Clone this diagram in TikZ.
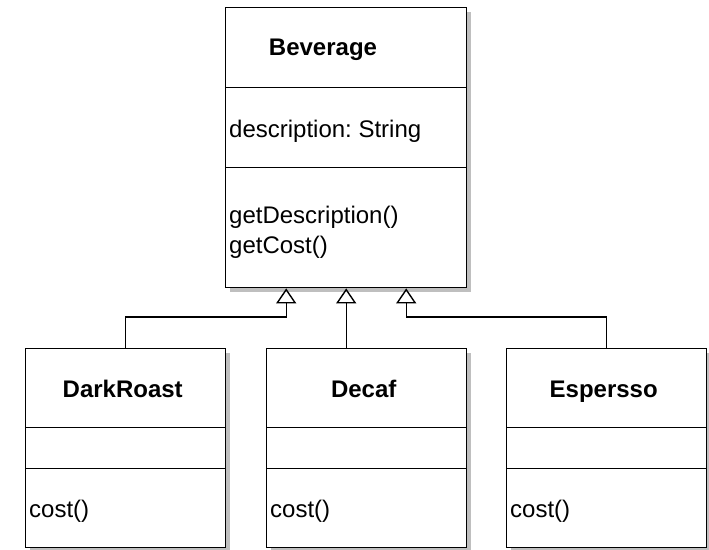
\documentclass[tikz,border=0pt]{standalone}
\usepackage{fontspec}
\setmainfont{Liberation Sans}
\usetikzlibrary{arrows.meta,shadows}
\frenchspacing
\begin{document}
\begin{tikzpicture}[x=1pt,y=-1pt,
  font=\fontsize{24}{34}\selectfont,
  classbox/.style={draw=black, line width=1.4pt, fill=white, inner sep=0pt,
    anchor=north west,
    drop shadow={shadow xshift=4pt, shadow yshift=-4pt, fill=black!25, opacity=1}},
  part/.style={draw=black, line width=1.4pt, inner sep=0pt, anchor=north west},
  title/.style={font=\fontsize{24}{34}\selectfont\bfseries, inner sep=0pt, anchor=base},
  member/.style={inner sep=0pt, anchor=base west},
  gen/.style={draw=black, line width=1.4pt,
    -{Triangle[open, width=20pt, length=15pt, line width=1.4pt]}}
]
\fill[white] (0,0) rectangle (709,549);
\useasboundingbox (0,0) rectangle (709,549);

% Beverage class
\node[classbox, minimum width=241pt, minimum height=280pt] (bev) at (225,7) {};
\node[part, minimum width=241pt, minimum height=80pt] (bevname) at (225,7) {};
\node[part, minimum width=241pt, minimum height=80pt] (bevattr) at (225,87) {};
\node[part, minimum width=241pt, minimum height=120pt] (bevops) at (225,167) {};
\node[title] (bevtitle) at (323,55) {Beverage};
\node[member] (bevdesc) at (229,137) {description: String};
\node[member] (bevgetd) at (229,223) {getDescription()};
\node[member] (bevgetc) at (229,253) {getCost()};

% Subclasses
\foreach \nm/\x/\lbl in {dr/25/DarkRoast, dc/266/Decaf, es/506/Espersso}{
  \node[classbox, minimum width=200pt, minimum height=199pt] (\nm) at (\x,348) {};
  \node[part, minimum width=200pt, minimum height=79pt] (\nm name) at (\x,348) {};
  \node[part, minimum width=200pt, minimum height=41pt] (\nm attr) at (\x,427) {};
  \node[part, minimum width=200pt, minimum height=79pt] (\nm ops) at (\x,468) {};
  \node[title] (\nm title) at ([xshift=-3pt]\nm.center |- 0,397) {\lbl};
  \node[member] (\nm cost) at (\x+4,517) {cost()};
}

% Generalization arrows
\coordinate (t1) at ([xshift=-60pt]bev.south);
\coordinate (t3) at ([xshift=60pt]bev.south);
\draw[gen] (dr.north) -- ++(0,-31) -| (t1);
\draw[gen] (bev.south |- dc.north) -- (bev.south);
\draw[gen] (es.north) -- ++(0,-31) -| (t3);
\end{tikzpicture}
\end{document}
